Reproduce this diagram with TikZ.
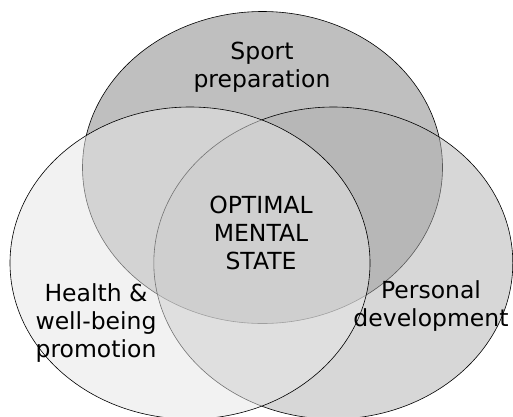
\documentclass[tikz,border=0pt]{standalone}
\usepackage{fontspec}
\setmainfont{DejaVu Sans}
\definecolor{topfill}{RGB}{191,191,191}
\definecolor{rightfill}{RGB}{177,177,177}
\definecolor{leftfill}{RGB}{231,231,231}
\begin{document}
\begin{tikzpicture}[x=1pt,y=-1pt,
  setshape/.style={draw=black,line width=0.6pt},
  lbl/.style={align=center,inner sep=0pt,font=\fontsize{23.5}{28}\selectfont}]
\useasboundingbox (0,0) rectangle (513,416);
\clip (0,0) rectangle (513,416);
\fill[white] (0,0) rectangle (513,416);
\draw[setshape,fill=topfill] (262.5,167.5) ellipse [x radius=180, y radius=156];
\draw[setshape,fill=rightfill,fill opacity=0.5] (333.3,263) ellipse [x radius=179.5, y radius=156];
\draw[setshape,fill=leftfill,fill opacity=0.5] (190,263) ellipse [x radius=180, y radius=156];
\node[lbl] (sport) at (262,67) {Sport\\preparation};
\node[lbl] (optimal) at (261,233.2) {OPTIMAL\\MENTAL\\STATE};
\node[lbl] (health) at (96,322.7) {Health \&\\well-being\\promotion};
\node[lbl] (personal) at (431,306.5) {Personal\\development};
\end{tikzpicture}
\end{document}
